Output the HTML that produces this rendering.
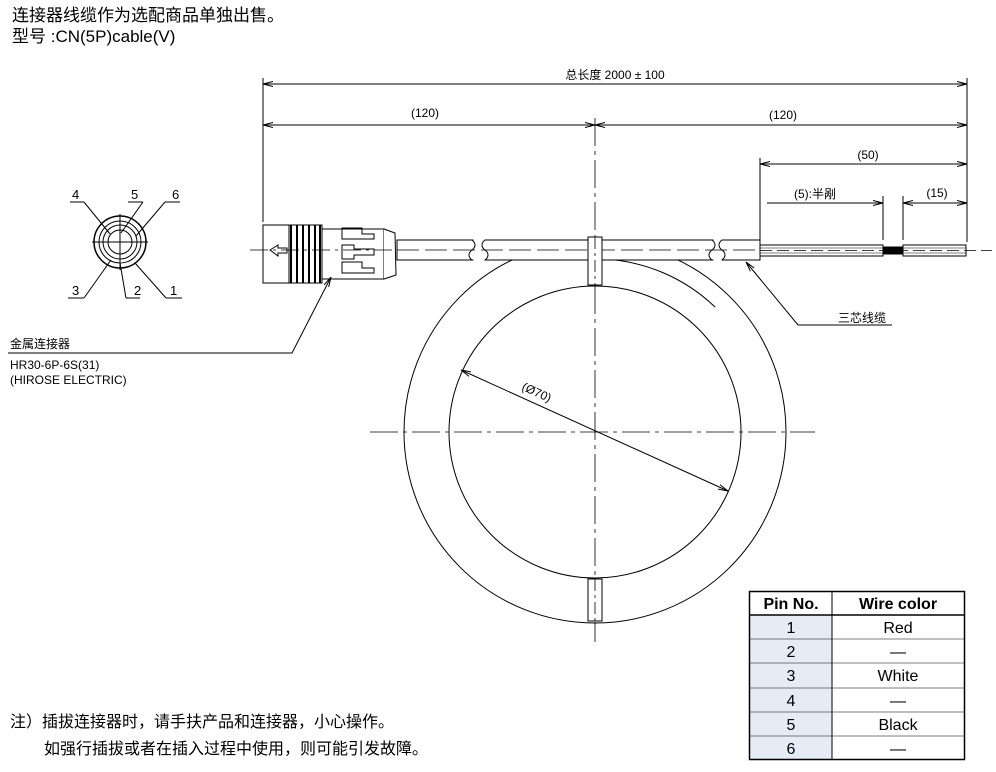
<!DOCTYPE html>
<html><head><meta charset="utf-8"><style>
html,body{margin:0;padding:0;background:#fff;}
svg{display:block;}
text{font-family:"Liberation Sans","Noto Sans CJK SC",sans-serif;fill:#000;}
</style></head><body>
<svg width="996" height="772" viewBox="0 0 996 772" xmlns="http://www.w3.org/2000/svg">
<defs>
<marker id="a" viewBox="0 0 10 6" refX="10" refY="3" markerWidth="10" markerHeight="6" orient="auto-start-reverse" markerUnits="userSpaceOnUse"><path d="M0,0.5 L10,3 L0,5.5" fill="none" stroke="#000" stroke-width="1"/></marker>
</defs>
<text x="12" y="21" font-size="17">连接器线缆作为选配商品单独出售。</text>
<text x="12" y="42" font-size="17">型号 :CN(5P)cable(V)</text>

<g stroke="#000" stroke-width="1" fill="none">
<line x1="263" y1="78" x2="263" y2="222"/>
<line x1="967" y1="78" x2="967" y2="242"/>
<line x1="760" y1="158" x2="760" y2="240"/>
<line x1="883" y1="196" x2="883" y2="240"/>
<line x1="903" y1="196" x2="903" y2="240"/>
<line x1="263" y1="84" x2="967" y2="84" marker-start="url(#a)" marker-end="url(#a)"/>
<line x1="263" y1="125" x2="595" y2="125" marker-start="url(#a)" marker-end="url(#a)"/>
<line x1="595" y1="125" x2="967" y2="125" marker-start="url(#a)" marker-end="url(#a)"/>
<line x1="760" y1="164" x2="967" y2="164" marker-start="url(#a)" marker-end="url(#a)"/>
<line x1="767" y1="203" x2="883" y2="203" marker-end="url(#a)"/>
<line x1="903" y1="203" x2="967" y2="203" marker-start="url(#a)" marker-end="url(#a)"/>
<line x1="595" y1="118" x2="595" y2="642" stroke-dasharray="28,5,4,5" stroke-width="0.8"/>
<line x1="370" y1="432" x2="815" y2="432" stroke-dasharray="28,5,4,5" stroke-width="0.8"/>
<circle cx="595" cy="432" r="191"/>
<circle cx="595" cy="432" r="146"/>
<path d="M602,259 A173,173 0 0 1 715,307"/>
</g>
<rect x="397" y="240" width="363" height="20" fill="#fff" stroke="#000"/>
<g fill="#fff" stroke="#fff"><rect x="474" y="239" width="10" height="22"/><rect x="714" y="239" width="7" height="22"/></g>
<g stroke="#000" fill="none" stroke-width="1">
<path d="M472,240 c4,3 4,7 0,10 c-4,3 -4,7 0,10"/>
<path d="M485,240 c-4,3 -4,7 0,10 c4,3 4,7 0,10"/>
<path d="M712,240 c4,3 4,7 0,10 c-4,3 -4,7 0,10"/>
<path d="M722,240 c-4,3 -4,7 0,10 c4,3 4,7 0,10"/>
<line x1="397" y1="250" x2="760" y2="250" stroke-dasharray="22,6" stroke-width="0.8"/>
<rect x="588" y="237" width="14" height="48" fill="#fff"/>
<rect x="588" y="579" width="14" height="42" fill="#fff"/>
<line x1="595" y1="237" x2="595" y2="285" stroke-dasharray="12,4,3,4" stroke-width="0.8"/>
<line x1="595" y1="579" x2="595" y2="621" stroke-dasharray="12,4,3,4" stroke-width="0.8"/>
<rect x="263" y="225" width="26" height="58" fill="#fff"/>
<rect x="289" y="225" width="33" height="58" fill="#fff"/>
<g stroke-width="2"><line x1="291" y1="225" x2="291" y2="283"/><line x1="297" y1="225" x2="297" y2="283"/><line x1="303" y1="225" x2="303" y2="283"/><line x1="309" y1="225" x2="309" y2="283"/><line x1="315" y1="225" x2="315" y2="283"/><line x1="320" y1="225" x2="320" y2="283"/></g>
<rect x="322" y="229" width="62" height="50" fill="#fff"/>
<path d="M384,229 L395,233 L396,275 L384,279" fill="#fff"/>
<path d="M342,228 h20 v6 h12 v5 h-12 v0 h-20 z"/>
<path d="M342,245 h12 v4 h20 v6 h-20 v4 h-12 z"/>
<path d="M342,262 h20 v6 h12 v5 h-32 z"/>
<path d="M270,250 l8,-5 v3 h9 v5 h-9 v3 z"/>
<line x1="250" y1="250" x2="397" y2="250" stroke-dasharray="18,5,3,5" stroke-width="0.8"/>
<rect x="760" y="245" width="123" height="11" fill="#fff"/>
<rect x="883" y="247" width="20" height="7" fill="#000"/>
<rect x="903" y="245" width="63" height="11" fill="#fff"/>
<line x1="760" y1="248" x2="966" y2="248" stroke-width="0.6"/>
<line x1="760" y1="253" x2="966" y2="253" stroke-width="0.6"/>
<line x1="760" y1="250.5" x2="992" y2="250.5" stroke-dasharray="12,5" stroke-width="0.8"/>
<path d="M331,277 L292,353 L8,353" marker-start="url(#a)"/>
<path d="M746,262 L798,325 L892,325" marker-start="url(#a)"/>
<line x1="461" y1="370" x2="728" y2="491" marker-start="url(#a)" marker-end="url(#a)"/>
<circle cx="120" cy="242" r="26" stroke-width="1.5"/>
<circle cx="120" cy="242" r="21"/>
<circle cx="120" cy="242" r="17"/>
<circle cx="120" cy="242" r="12"/>
<line x1="92" y1="242" x2="148" y2="242"/>
<line x1="120" y1="214" x2="120" y2="270"/>
<line x1="70" y1="202" x2="84" y2="202"/><line x1="84" y1="202" x2="110" y2="234"/>
<line x1="128" y1="202" x2="143" y2="202"/><line x1="143" y1="202" x2="121" y2="233"/>
<line x1="165" y1="202" x2="180" y2="202"/><line x1="165" y1="202" x2="136" y2="236"/>
<line x1="68" y1="298" x2="84" y2="298"/><line x1="84" y1="298" x2="111" y2="260"/>
<line x1="126" y1="298" x2="140" y2="298"/><line x1="126" y1="298" x2="120" y2="263"/>
<line x1="166" y1="298" x2="182" y2="298"/><line x1="166" y1="298" x2="135" y2="263"/>
</g>
<g font-size="13"><text x="72" y="199">4</text><text x="131" y="199">5</text><text x="172" y="199">6</text>
<text x="72" y="295">3</text><text x="134" y="295">2</text><text x="170" y="295">1</text></g>

<g font-size="12" text-anchor="middle">
<text x="615" y="79">总长度 2000 ± 100</text>
<text x="425" y="117">(120)</text>
<text x="783" y="119">(120)</text>
<text x="868" y="159">(50)</text>
<text x="815" y="198">(5):半剐</text>
<text x="937" y="197">(15)</text>
<text x="862" y="322">三芯线缆</text>
<text x="535" y="396" transform="rotate(24.4 535 396)">(Ø70)</text>
</g>
<g font-size="12"><text x="10" y="348">金属连接器</text><text x="10" y="369">HR30-6P-6S(31)</text><text x="10" y="384">(HIROSE ELECTRIC)</text></g>

<g font-size="16"><text x="10" y="727">注）插拔连接器时，请手扶产品和连接器，小心操作。</text>
<text x="44" y="754">如强行插拔或者在插入过程中使用，则可能引发故障。</text></g>

<rect x="749" y="615" width="83" height="145" fill="#e6ecf5"/>
<g stroke="#000" fill="none">
<rect x="749.5" y="591.5" width="215" height="168" stroke-width="1.5"/>
<line x1="832" y1="591" x2="832" y2="760"/>
<line x1="749" y1="615" x2="965" y2="615" stroke-width="1.5"/>
<line x1="749" y1="639" x2="965" y2="639" stroke-width="0.6"/>
<line x1="749" y1="663" x2="965" y2="663" stroke-width="0.6"/>
<line x1="749" y1="688" x2="965" y2="688" stroke-width="0.6"/>
<line x1="749" y1="712" x2="965" y2="712" stroke-width="0.6"/>
<line x1="749" y1="736" x2="965" y2="736" stroke-width="0.6"/>
</g>
<g font-size="16" text-anchor="middle">
<text x="791" y="609" font-weight="bold">Pin No.</text><text x="898" y="609" font-weight="bold">Wire color</text>
<text x="791" y="633">1</text><text x="898" y="633">Red</text>
<text x="791" y="657">2</text><text x="898" y="657">—</text>
<text x="791" y="681">3</text><text x="898" y="681">White</text>
<text x="791" y="706">4</text><text x="898" y="706">—</text>
<text x="791" y="730">5</text><text x="898" y="730">Black</text>
<text x="791" y="754">6</text><text x="898" y="754">—</text>
</g>
</svg>
</body></html>
